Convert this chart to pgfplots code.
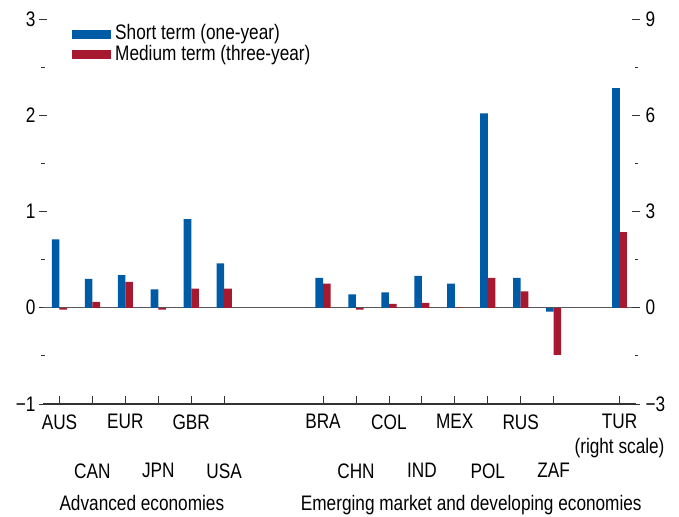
\documentclass[border=0pt]{standalone}
\usepackage{fontspec}
\setmainfont{Liberation Sans}[FakeStretch=0.82]
\usepackage{pgfplots}
\pgfplotsset{compat=1.18}
\definecolor{imfblue}{RGB}{0,91,167}
\definecolor{imfred}{RGB}{166,25,46}
\newcommand{\lbl}{\fontsize{21bp}{25bp}\selectfont}
\pgfplotsset{
  common/.style={
    at={(43bp,113bp)}, anchor=south west,
    scale only axis, width=593bp, height=385bp,
    xmin=-0.5, xmax=17.5,
    clip=false,
    separate axis lines,
    y axis line style={draw=none},
    tick label style={font=\lbl},
    ytick align=center,
    major y tick style={black!80, line width=0.8bp},
    minor y tick style={black!80, line width=0.8bp},
    major tick length=8bp, minor tick length=3bp,
    ybar, bar width=7.6bp,
  }
}
\begin{document}
\begin{tikzpicture}
\useasboundingbox (0,0) rectangle (679bp,517bp);
\begin{axis}[common,
  ymin=-1, ymax=3,
  axis x line*=bottom, axis y line*=left,
  x axis line style={black!80, line width=1.2bp},
  ytick={-1,0,1,2,3}, yticklabels={−1,0,1,2,3},
  minor ytick={-0.5,0.5,1.5,2.5},
  xtick align=inside,
  major x tick style={black!80, line width=0.8bp},
  xtick={0,2,4,8,10,12,14,17},
  xticklabels={AUS,EUR,GBR,BRA,COL,MEX,RUS,{TUR\\(right scale)}},
  xticklabel style={align=center, anchor=north, yshift=-7bp},
  extra x ticks={1,3,5,9,11,13,15},
  extra x tick labels={CAN,JPN,USA,CHN,IND,POL,ZAF},
  extra x tick style={xticklabel style={yshift=-49bp}, major tick length=8bp},
  legend style={at={(0.049,0.992)}, anchor=north west, draw=none, fill=none,
    font=\lbl, inner sep=0pt, row sep=0bp, legend cell align=left},
  legend image code/.code={\fill[#1] (0bp,-6bp) rectangle (39bp,3bp); \path (41bp,9bp);},
]
\draw[black!65, line width=1.2bp] (axis cs:-0.5,0) -- (axis cs:17.5,0);
\addplot[fill=imfblue, draw=none, bar shift=-3.8bp] coordinates {
  (0,0.71) (1,0.30) (2,0.34) (3,0.19) (4,0.92) (5,0.46)
  (8,0.31) (9,0.14) (10,0.16) (11,0.33) (12,0.25) (13,2.02) (14,0.31) (15,-0.04)};
\addplot[fill=imfred, draw=none, bar shift=3.8bp] coordinates {
  (0,-0.02) (1,0.06) (2,0.27) (3,-0.02) (4,0.20) (5,0.20)
  (8,0.25) (9,-0.02) (10,0.04) (11,0.05) (12,0.005) (13,0.31) (14,0.17) (15,-0.49)};
\legend{Short term (one-year), Medium term (three-year)}
\node[font=\lbl, anchor=base] at ([yshift=-106bp]axis cs:2.5,-1) {Advanced economies};
\node[font=\lbl, anchor=base] at ([yshift=-106bp]axis cs:12.5,-1) {Emerging market and developing economies};
\end{axis}
\begin{axis}[common,
  ymin=-3, ymax=9,
  axis x line=none, axis y line*=right,
  ytick={-3,0,3,6,9}, yticklabels={−3,0,3,6,9},
  yticklabel style={xshift=2bp},
  minor ytick={-1.5,1.5,4.5,7.5},
]
\addplot[fill=imfblue, draw=none, bar shift=-3.8bp] coordinates {(17,6.84)};
\addplot[fill=imfred, draw=none, bar shift=3.8bp] coordinates {(17,2.35)};
\end{axis}
\end{tikzpicture}
\end{document}
